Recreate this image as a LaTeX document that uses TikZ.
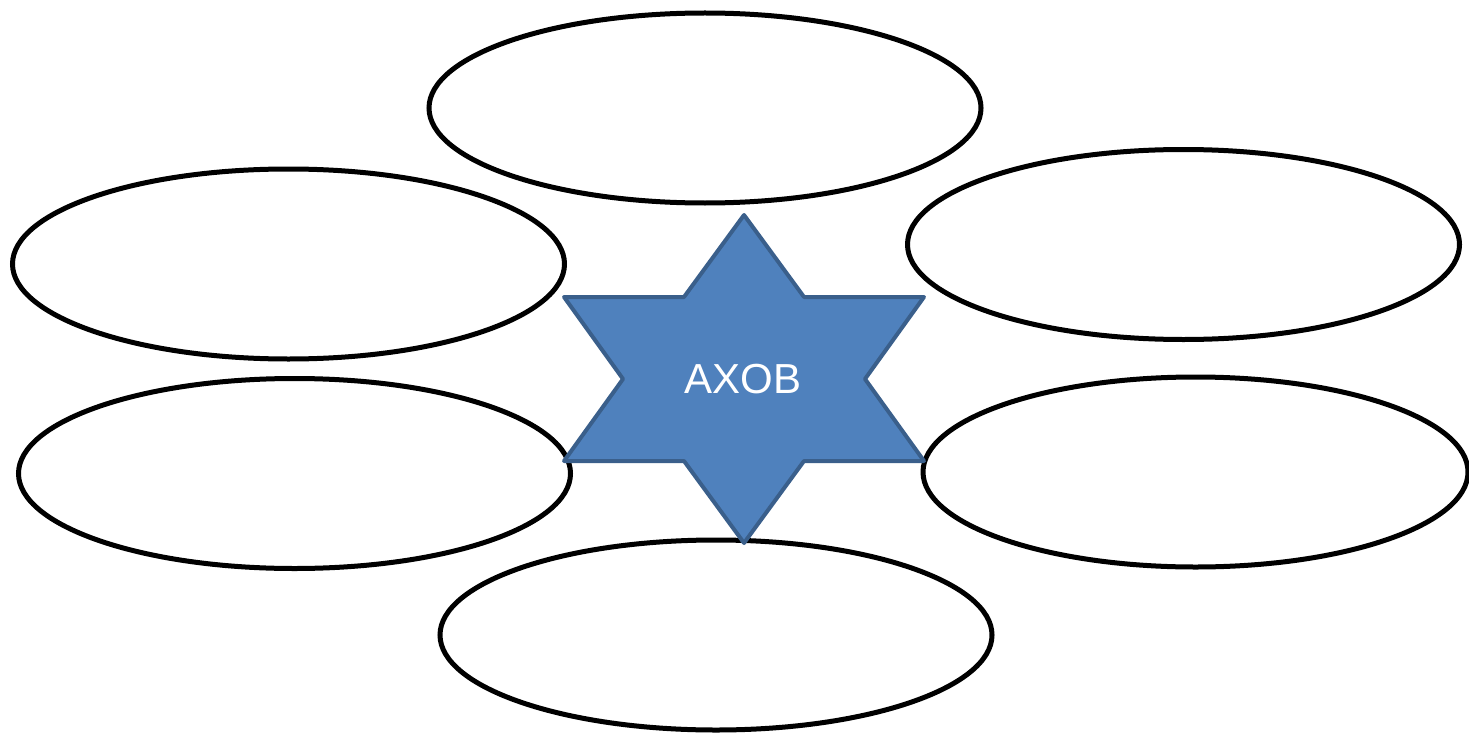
\documentclass[tikz,border=0pt]{standalone}
\usepackage{fontspec}
\setmainfont{Liberation Sans}
\usetikzlibrary{shapes.geometric}
\definecolor{starfill}{HTML}{4F81BD}
\definecolor{starline}{HTML}{3A5F8B}
\tikzset{
  bubble/.style={ellipse, draw=black, line width=5pt, fill=white,
    minimum width=552pt, minimum height=190pt, inner sep=0pt},
  starshape/.style={fill=starfill, draw=starline, line width=4pt, line join=round},
  startext/.style={text=white, font=\fontsize{42}{48}\selectfont, inner sep=0pt}
}
\begin{document}
\begin{tikzpicture}[x=1pt,y=-1pt]
\useasboundingbox (0,0) rectangle (1469,733);
\node[bubble] (top) at (705,108) {};
\node[bubble] (ul) at (288.5,264) {};
\node[bubble] (ur) at (1183.5,244.5) {};
\node[bubble] (ll) at (294.5,473.5) {};
\node[bubble, minimum width=545pt] (lr) at (1195.5,472) {};
\node[bubble] (bot) at (716,635) {};
\coordinate (s1) at (744,215);
\coordinate (s2) at (804,297);
\coordinate (s3) at (924,297);
\coordinate (s4) at (865,379);
\coordinate (s5) at (924,461);
\coordinate (s6) at (804,461);
\coordinate (s7) at (744,543);
\coordinate (s8) at (684,461);
\coordinate (s9) at (564,461);
\coordinate (s10) at (623,379);
\coordinate (s11) at (564,297);
\coordinate (s12) at (684,297);
\draw[starshape] (s1) -- (s2) -- (s3) -- (s4) -- (s5) -- (s6) -- (s7) -- (s8) -- (s9) -- (s10) -- (s11) -- (s12) -- cycle;
\node[startext] (label) at (743,379) {AXOB};
\end{tikzpicture}
\end{document}
